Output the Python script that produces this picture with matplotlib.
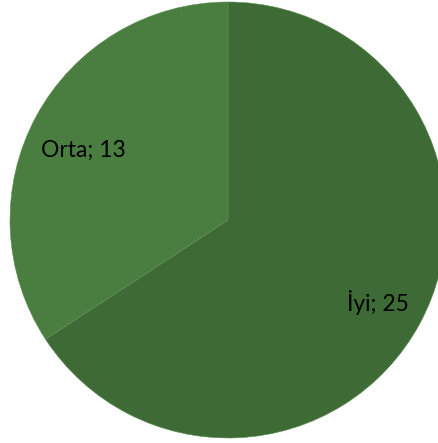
import numpy as np
import matplotlib
matplotlib.use("Agg")
import matplotlib.pyplot as plt

# slice data
categories = ["İyi", "Orta"]
values = [25, 13]
colors = ["#3d6a35", "#4a7e40"]
label_dist = [0.785, 0.735]
label_shift = [-0.3, 2.8]  # degrees off the bisector

W, H = 438, 443
fig = plt.figure(figsize=(W / 100, H / 100), dpi=100)
ax = fig.add_axes([0, 0, 1, 1])

wedges, texts = ax.pie(
    values,
    labels=[f"{c}; {v}" for c, v in zip(categories, values)],
    colors=colors,
    startangle=90,
    counterclock=False,
    center=(228, H - 220),
    radius=218,
    labeldistance=0.74,
    wedgeprops=dict(edgecolor="#5f8f55", linewidth=0.4),
    textprops=dict(fontsize=16.5, family="Lato", color="black"),
    frame=True,
)

# place each label at its own distance along the wedge bisector
for w, t, d, s in zip(wedges, texts, label_dist, label_shift):
    ang = np.deg2rad((w.theta1 + w.theta2) / 2 + s)
    cx, cy = w.center
    t.set_position((cx + d * w.r * np.cos(ang), cy + d * w.r * np.sin(ang)))
    t.set_ha("center")
    t.set_va("center")

ax.set_xlim(0, W)
ax.set_ylim(0, H)
ax.set_aspect("equal")
ax.axis("off")

fig.savefig("out.png", dpi=100, facecolor="white")
